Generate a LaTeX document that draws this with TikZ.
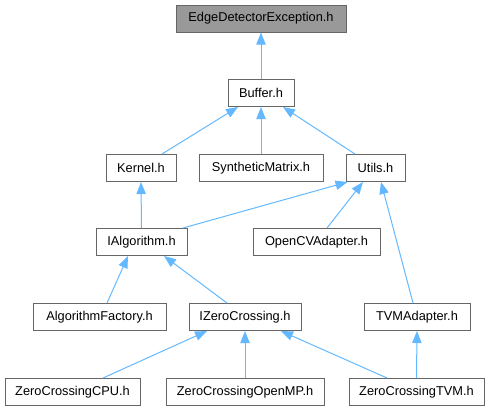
\documentclass[tikz,border=0pt]{standalone}
\usepackage{fontspec}
\setmainfont{Liberation Sans}
\usetikzlibrary{arrows.meta,calc}
\definecolor{edgeblue}{HTML}{63B8FF}
\definecolor{boxborder}{HTML}{666666}
\definecolor{rootfill}{HTML}{999999}
\begin{document}
\begin{tikzpicture}[x=0.75pt,y=-0.75pt,
  box/.style={draw=boxborder, line width=0.75pt, fill=white, minimum height=20.25pt,
    inner sep=0pt, font=\fontsize{9.6}{11}\selectfont},
  root/.style={box, fill=rootfill},
  dep/.style={draw=edgeblue, line width=0.75pt, {Triangle[length=9pt,width=7pt]}-}]
\useasboundingbox (0,0) rectangle (490,411);
% nodes
\node[root, minimum width=127.5pt] (edge) at (261,18.5) {EdgeDetectorException.h};
\node[box, minimum width=49.5pt] (buffer) at (261,93) {Buffer.h};
\node[box, minimum width=52.5pt] (kernel) at (141,168) {Kernel.h};
\node[box, minimum width=93pt] (synth) at (261,168) {SyntheticMatrix.h};
\node[box, minimum width=44.25pt] (utils) at (375.5,168) {Utils.h};
\node[box, minimum width=68.25pt] (ialg) at (141.5,242) {IAlgorithm.h};
\node[box, minimum width=95.25pt] (opencv) at (316.5,242) {OpenCVAdapter.h};
\node[box, minimum width=99.75pt] (factory) at (99.5,317) {AlgorithmFactory.h};
\node[box, minimum width=84pt] (izc) at (245,317) {IZeroCrossing.h};
\node[box, minimum width=79.5pt] (tvmad) at (417,317) {TVMAdapter.h};
\node[box, minimum width=101.25pt] (cpu) at (72.5,392) {ZeroCrossingCPU.h};
\node[box, minimum width=118.5pt] (omp) at (245,392) {ZeroCrossingOpenMP.h};
\node[box, minimum width=101.25pt] (tvm) at (416.5,392) {ZeroCrossingTVM.h};
% connectors (tip at the included file)
\draw[dep] (edge.south) -- (buffer.north);
\draw[dep] ($(buffer.south)+(-23,0)$) -- ($(kernel.north)+(21,0)$);
\draw[dep] (buffer.south) -- (synth.north);
\draw[dep] ($(buffer.south)+(22,0)$) -- ($(utils.north)+(-20.5,0)$);
\draw[dep] (kernel.south) -- (ialg.north);
\draw[dep] ($(utils.south)+(-28,0)$) -- ($(ialg.north)+(41.5,0)$);
\draw[dep] ($(utils.south)+(-12.5,0)$) -- ($(opencv.north)+(10.5,0)$);
\draw[dep] ($(utils.south)+(5.5,0)$) -- ($(tvmad.north)+(-4,0)$);
\draw[dep] ($(ialg.south)+(-13.5,0)$) -- ($(factory.north)+(7.5,0)$);
\draw[dep] ($(ialg.south)+(22.5,0)$) -- ($(izc.north)+(-18,0)$);
\draw[dep] ($(izc.south)+(-38,0)$) -- ($(cpu.north)+(30.5,0)$);
\draw[dep] (izc.south) -- (omp.north);
\draw[dep] ($(izc.south)+(36,0)$) -- ($(tvm.north)+(-29.5,0)$);
\draw[dep] (tvmad.south) -- (tvm.north);
\end{tikzpicture}
\end{document}
